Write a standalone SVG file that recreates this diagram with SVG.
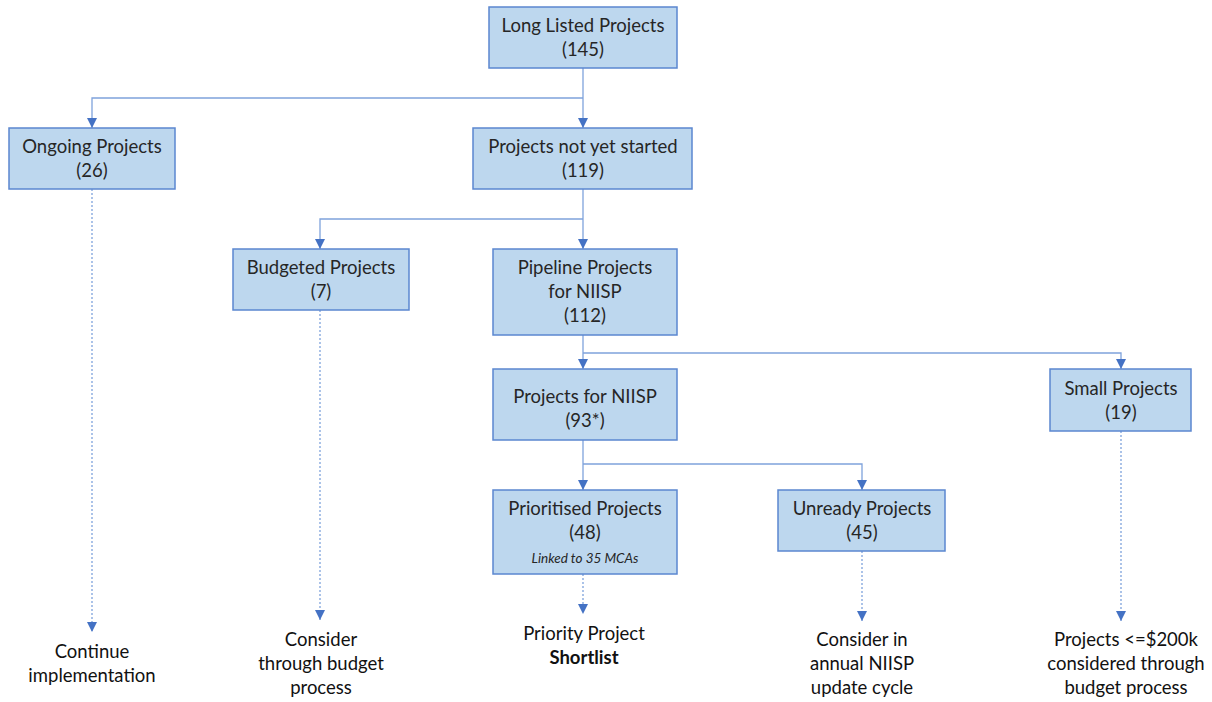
<svg xmlns="http://www.w3.org/2000/svg" width="1212" height="702" viewBox="0 0 1212 702">
<defs>
<style>
.box{fill:#bdd7ee;stroke:#5b87d0;stroke-width:1.5}
.t{font-family:Lato,"Liberation Sans",sans-serif;font-size:18.5px;fill:#262626;text-anchor:middle}
.o{font-family:Lato,"Liberation Sans",sans-serif;font-size:18.5px;fill:#111;text-anchor:middle}
.s{font-family:Lato,"Liberation Sans",sans-serif;font-size:13.5px;font-style:italic;fill:#262626;text-anchor:middle}
.c{fill:none;stroke:#7fa3dc;stroke-width:1.3}
.d{fill:none;stroke:#7fa3dc;stroke-width:1.3;stroke-dasharray:2 2}
</style>
<marker id="a" viewBox="0 0 10 10" refX="10" refY="5" markerWidth="10" markerHeight="10" markerUnits="userSpaceOnUse" orient="auto">
<path d="M0,0 L10,5 L0,10 z" fill="#4472c4"/>
</marker>
</defs>
<rect width="1212" height="702" fill="#fff"/>
<g id="connectors">
<path class="c" d="M583,68 V128" marker-end="url(#a)"/>
<path class="c" d="M583,98 H92 V128" marker-end="url(#a)"/>
<path class="c" d="M583,189 V249" marker-end="url(#a)"/>
<path class="c" d="M583,219 H320 V249" marker-end="url(#a)"/>
<path class="c" d="M583,335 V369" marker-end="url(#a)"/>
<path class="c" d="M583,353 H1121 V369" marker-end="url(#a)"/>
<path class="c" d="M583,440 V490" marker-end="url(#a)"/>
<path class="c" d="M583,464 H862 V490" marker-end="url(#a)"/>
<path class="d" d="M92,189 V632" marker-end="url(#a)"/>
<path class="d" d="M320,310 V620" marker-end="url(#a)"/>
<path class="d" d="M583,574 V614" marker-end="url(#a)"/>
<path class="d" d="M862,551 V621" marker-end="url(#a)"/>
<path class="d" d="M1121,431 V621" marker-end="url(#a)"/>
</g>
<g id="long-listed"><rect class="box" x="489" y="7" width="188" height="61"/><text class="t" x="583" y="32">Long Listed Projects</text><text class="t" x="583" y="56">(145)</text></g>
<g id="ongoing"><rect class="box" x="9" y="128" width="166" height="61"/><text class="t" x="92" y="153">Ongoing Projects</text><text class="t" x="92" y="177">(26)</text></g>
<g id="not-started"><rect class="box" x="473" y="128" width="219" height="61"/><text class="t" x="583" y="153">Projects not yet started</text><text class="t" x="583" y="177">(119)</text></g>
<g id="budgeted"><rect class="box" x="233" y="249" width="176" height="61"/><text class="t" x="321" y="274">Budgeted Projects</text><text class="t" x="321" y="298">(7)</text></g>
<g id="pipeline"><rect class="box" x="493" y="249" width="184" height="86"/><text class="t" x="585" y="274">Pipeline Projects</text><text class="t" x="585" y="298">for NIISP</text><text class="t" x="585" y="322">(112)</text></g>
<g id="small"><rect class="box" x="1050" y="369" width="141" height="62"/><text class="t" x="1121" y="395">Small Projects</text><text class="t" x="1121" y="419">(19)</text></g>
<g id="for-niisp"><rect class="box" x="493" y="369" width="184" height="71"/><text class="t" x="585" y="403">Projects for NIISP</text><text class="t" x="585" y="427">(93*)</text></g>
<g id="prioritised"><rect class="box" x="493" y="490" width="184" height="84"/><text class="t" x="585" y="515">Prioritised Projects</text><text class="t" x="585" y="539">(48)</text><text class="s" x="585" y="563">Linked to 35 MCAs</text></g>
<g id="unready"><rect class="box" x="778" y="490" width="167" height="61"/><text class="t" x="862" y="515">Unready Projects</text><text class="t" x="862" y="539">(45)</text></g>
<g id="out-continue"><text class="o" x="92" y="658">Continue</text><text class="o" x="92" y="682">implementation</text></g>
<g id="out-budget"><text class="o" x="321" y="646">Consider</text><text class="o" x="321" y="670">through budget</text><text class="o" x="321" y="694">process</text></g>
<g id="out-shortlist"><text class="o" x="584" y="640">Priority Project</text><text class="o" x="584" y="664" font-weight="bold">Shortlist</text></g>
<g id="out-annual"><text class="o" x="862" y="646">Consider in</text><text class="o" x="862" y="670">annual NIISP</text><text class="o" x="862" y="694">update cycle</text></g>
<g id="out-small"><text class="o" x="1126" y="646">Projects &lt;=$200k</text><text class="o" x="1126" y="670">considered through</text><text class="o" x="1126" y="694">budget process</text></g>
</svg>
